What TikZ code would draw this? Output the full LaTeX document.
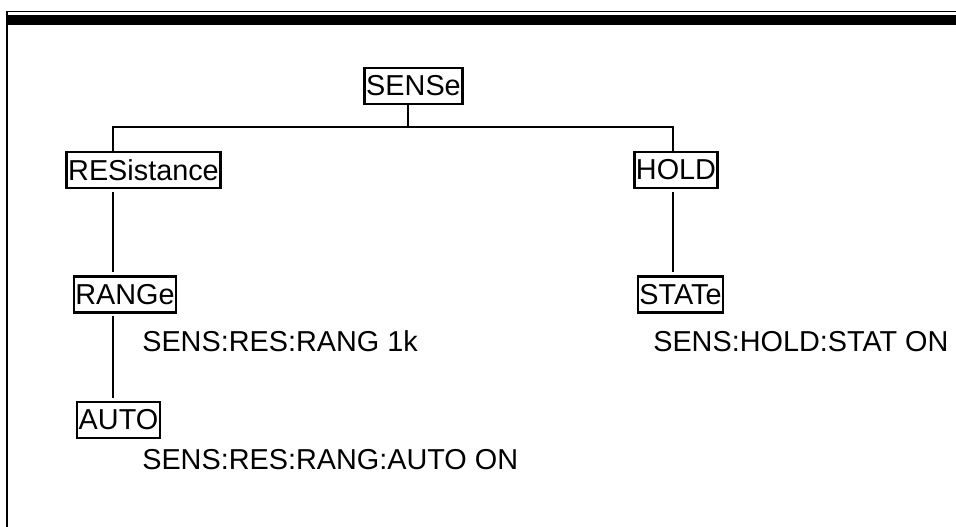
\documentclass[tikz,border=0pt]{standalone}
\usepackage{fontspec}
\setmainfont{Liberation Sans}
\usetikzlibrary{calc,positioning}
\definecolor{CLN}{RGB}{0,0,0}

\begin{document}
\begin{tikzpicture}[font=\fontsize{20.5}{24}\selectfont,
  cmdbox/.style={draw=CLN,line width=0.06cm,inner xsep=0.04cm,inner ysep=0cm,minimum height=0.9cm},
  cmdtext/.style={anchor=base west,inner sep=0cm},
  link/.style={CLN,line width=0.04cm}]
  \useasboundingbox (0.0000cm,0.0000cm) rectangle (23.9000cm,13.1750cm);
  % page frame
  \fill[CLN] (0.1500cm,0.0000cm) rectangle (0.2000cm,12.9000cm);
  \fill[CLN] (0.1500cm,12.8675cm) rectangle (23.9000cm,12.9000cm);
  \fill[CLN] (0.1500cm,12.5500cm) rectangle (23.9000cm,12.8000cm);
  % command tree
  \node[cmdbox] (sense) at (10.3375cm,11.0250cm) {SENSe};
  \node[cmdbox] (res) at (3.5875cm,8.9250cm) {RESistance};
  \node[cmdbox] (hold) at (16.9000cm,8.9250cm) {HOLD};
  \node[cmdbox] (range) at (3.1250cm,5.8125cm) {RANGe};
  \node[cmdbox] (state) at (17.0125cm,5.8125cm) {STATe};
  \node[cmdbox] (auto) at (2.9625cm,2.6750cm) {AUTO};
  \node[cmdtext] (rangeex) at (3.5500cm,4.3750cm) {SENS:RES:RANG 1k};
  \node[cmdtext] (stateex) at (16.3250cm,4.3750cm) {SENS:HOLD:STAT ON};
  \node[cmdtext] (autoex) at (3.5500cm,1.4250cm) {SENS:RES:RANG:AUTO ON};
  \coordinate (bus) at (10.2000cm,9.9938cm);
  \coordinate (busL) at (2.8250cm,9.9938cm);
  \coordinate (busR) at (16.8250cm,9.9938cm);
  \draw[link] (sense.south -| bus) -- (bus);
  \draw[link] (busL |- res.north) -- (busL) -- (busR) -- (busR |- hold.north);
  \draw[link,shorten <=0.07cm,shorten >=0.07cm] (busL |- res.south) -- (busL |- range.north);
  \draw[link,shorten <=0.07cm,shorten >=0.07cm] (busL |- range.south) -- (busL |- auto.north);
  \draw[link,shorten <=0.07cm,shorten >=0.07cm] (busR |- hold.south) -- (busR |- state.north);
\end{tikzpicture}
\end{document}
